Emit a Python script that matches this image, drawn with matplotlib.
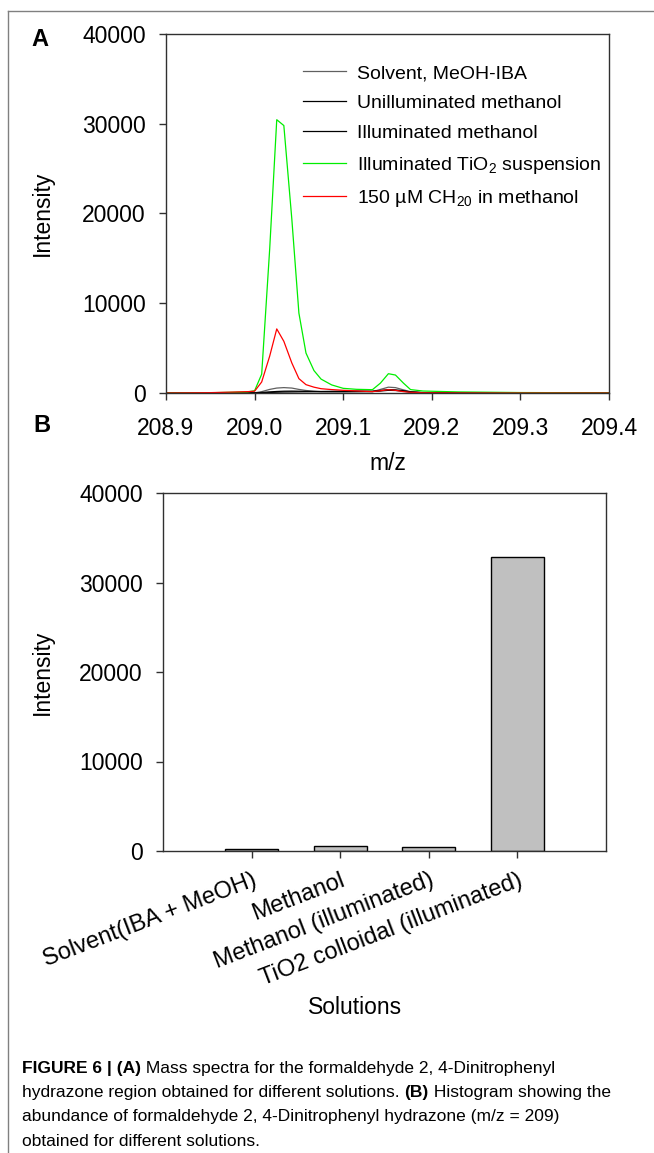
import matplotlib

matplotlib.use("Agg")
import matplotlib.pyplot as plt
from matplotlib.lines import Line2D

plt.rcParams["font.family"] = ["Liberation Sans", "DejaVu Sans"]
plt.rcParams["mathtext.fontset"] = "custom"
plt.rcParams["mathtext.rm"] = "Liberation Sans"
plt.rcParams["mathtext.it"] = "Liberation Sans:italic"
plt.rcParams["mathtext.bf"] = "Liberation Sans:bold"

# ---- panel A: mass spectra around m/z 209 ----
mz = [208.900, 208.950, 208.975, 208.992, 209.000, 209.008, 209.017, 209.025, 209.033,
      209.042, 209.050, 209.058, 209.067, 209.075, 209.087, 209.100, 209.115, 209.133,
      209.142, 209.151, 209.159, 209.168, 209.176, 209.190, 209.230, 209.300, 209.400]
solvent = [0, 0, 0, 0, 20, 150, 400, 550, 600, 550, 400, 280, 200, 150, 120, 100, 120,
           150, 400, 650, 600, 350, 150, 50, 0, 0, 0]
unillum_meoh = [0, 0, 0, 0, 10, 60, 120, 170, 200, 210, 200, 180, 170, 160, 170, 180, 200,
                200, 280, 380, 350, 250, 120, 40, 0, 0, 0]
illum_meoh = [0, 0, 0, 0, 5, 30, 60, 90, 110, 120, 130, 140, 150, 160, 170, 180, 180,
              170, 220, 300, 280, 200, 100, 30, 0, 0, 0]
tio2 = [0, 30, 80, 120, 250, 2100, 16000, 30450, 29800, 19400, 8900, 4450, 2500, 1550,
        900, 520, 410, 370, 1100, 2150, 2000, 1100, 380, 220, 120, 50, 20]
ch2o_std = [0, 40, 100, 150, 200, 1230, 4100, 7140, 5760, 3350, 1600, 930, 650, 480, 380,
            300, 230, 150, 250, 370, 300, 150, 75, 30, 10, 0, 0]

series_labels = ["Solvent, MeOH-IBA", "Unilluminated methanol", "Illuminated methanol",
                 "Illuminated TiO$_2$ suspension", "150 µM CH$_{20}$ in methanol"]
series_colors = ["#606060", "#000000", "#000000", "#00ee00", "#ff0000"]

# ---- panel B: abundance at m/z = 209 ----
solutions = ["Solvent(IBA + MeOH)", "Methanol", "Methanol (illuminated)",
             "TiO2 colloidal (illuminated)"]
abundance = [250, 560, 470, 32800]

caption = [
    [("FIGURE 6 | (A)", "bold"), (" Mass spectra for the formaldehyde 2, 4-Dinitrophenyl", "normal")],
    [("hydrazone region obtained for different solutions. ", "normal"), ("(B)", "bold"),
     (" Histogram showing the", "normal")],
    [("abundance of formaldehyde 2, 4-Dinitrophenyl hydrazone (m/z = 209)", "normal")],
    [("obtained for different solutions.", "normal")],
]

W, H = 654, 1153
fig = plt.figure(figsize=(W / 100, H / 100), dpi=100)


def fx(px):
    return px / W


def fy(py):
    return 1 - py / H


def style_axes(ax):
    for sp in ax.spines.values():
        sp.set_color("#303030")
        sp.set_linewidth(1.0)
    ax.tick_params(direction="out", length=5, width=1, color="#303030",
                   labelsize=16.5, top=False, right=False)
    ax.tick_params(axis="y", pad=9.5)


# panel A
axA = fig.add_axes([fx(166), fy(393), fx(443), 359 / H])
data = [solvent, unillum_meoh, illum_meoh, tio2, ch2o_std]
for vals, c, lab in zip(data, series_colors, series_labels):
    axA.plot(mz, vals, color=c, lw=0.9, label=lab)
axA.set_xlim(208.9, 209.4)
axA.set_ylim(0, 40000)
axA.set_xticks([208.9, 209.0, 209.1, 209.2, 209.3, 209.4])
axA.set_xticklabels(["208.9", "209.0", "209.1", "209.2", "209.3", "209.4"])
axA.set_yticks([0, 10000, 20000, 30000, 40000])
style_axes(axA)
axA.tick_params(axis="x", pad=12)
axA.set_xlabel("m/z", fontsize=16.5, labelpad=9)
axA.set_ylabel("Intensity", fontsize=16.5, labelpad=20)
axA.legend(loc="upper left", bbox_to_anchor=(0.309, 0.915), frameon=False,
           fontsize=14, handlelength=2.2, handletextpad=0.6, labelspacing=0.64,
           borderpad=0, borderaxespad=0)

# panel B
axB = fig.add_axes([fx(163), fy(851), fx(443), 358 / H])
pos = list(range(1, len(solutions) + 1))
axB.bar(pos, abundance, width=0.6, color="#c0c0c0", edgecolor="black", linewidth=1)
axB.set_xlim(0, 5)
axB.set_ylim(0, 40000)
axB.set_yticks([0, 10000, 20000, 30000, 40000])
axB.set_xticks(pos)
axB.set_xticklabels(solutions, rotation=21, ha="right", va="top", rotation_mode="anchor")
style_axes(axB)
axB.tick_params(axis="x", pad=8, labelsize=17)
axB.set_ylabel("Intensity", fontsize=16.5, labelpad=18)
fig.text(fx(355), fy(1007), "Solutions", fontsize=16.5, ha="center", va="center")

fig.text(fx(40), fy(40), "A", fontsize=17, fontweight="bold", ha="center", va="center")
fig.text(fx(42), fy(425), "B", fontsize=17, fontweight="bold", ha="center", va="center")

# page frame lines (top and left)
fig.add_artist(Line2D([fx(8), 1.0], [fy(11), fy(11)], color="#808080", lw=1))
fig.add_artist(Line2D([fx(8), fx(8)], [fy(11), 0.0], color="#808080", lw=1))

# caption, laid out run by run so bold and regular pieces share a line
fig.canvas.draw()
renderer = fig.canvas.get_renderer()
line_y = [1068, 1092, 1117, 1141]
for runs, y in zip(caption, line_y):
    x = 22
    for txt, weight in runs:
        t = fig.text(fx(x), fy(y), txt, fontsize=12.5, fontweight=weight,
                     ha="left", va="center")
        x += t.get_window_extent(renderer).width

fig.savefig("out.png", dpi=100)
